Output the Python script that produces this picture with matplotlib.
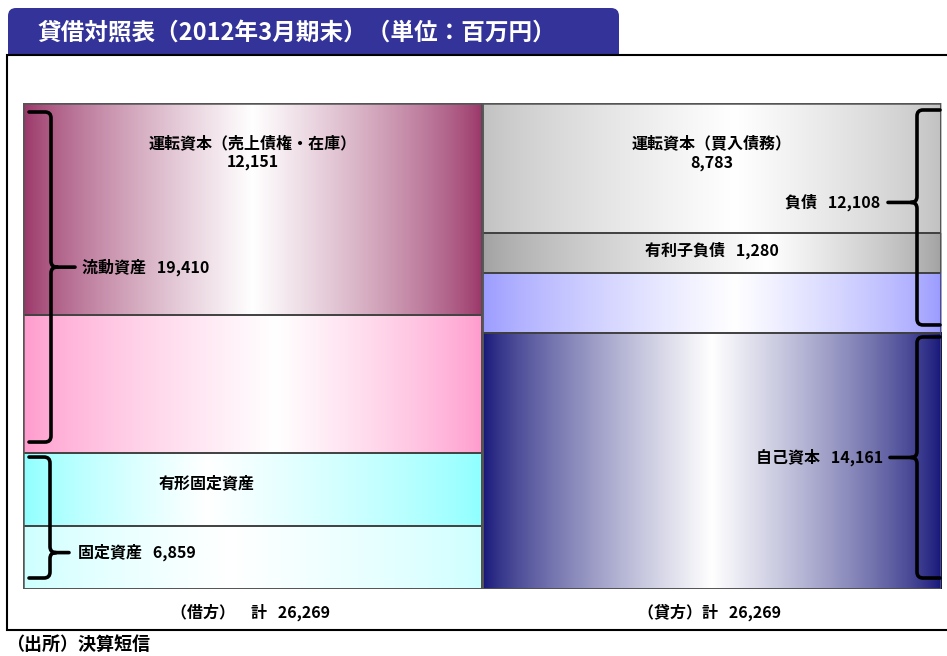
import numpy as np
import matplotlib.pyplot as plt
from matplotlib.patches import Rectangle, FancyBboxPatch, PathPatch
from matplotlib.path import Path
from matplotlib.colors import to_rgb

plt.rcParams['font.family'] = ['Noto Sans CJK JP', 'DejaVu Sans']

# values printed on the chart (million yen)
total = 26269
current_assets = 19410
fixed_assets = 6859
wc_receivable = 12151
wc_payable = 8783
debt = 1280
liabilities = 12108
equity = 14161

# segment heights as drawn in the picture, top to bottom (million yen)
debit_vals = [11460, 7460, 3950, 3400]     # wc assets, other current, tangible, other fixed
credit_vals = [7030, 2160, 3240, 13840]    # wc payable, debt, other liab, equity

debit_colors = ['#993366', '#FF99CC', '#8CFFFF', '#CCFFFF']
credit_colors = ['#C0C0C0', '#A0A0A0', '#9999FF', '#141478']
debit_peak = [0.5, 0.55, 0.4, 0.45]
credit_peak = [0.55, 0.62, 0.55, 0.5]

W, H = 947, 656
fig = plt.figure(figsize=(W / 100, H / 100), dpi=100)

# pixel-space layers behind and in front of the chart
bg = fig.add_axes([0, 0, 1, 1], zorder=0)
fg = fig.add_axes([0, 0, 1, 1], zorder=2)
for a in (bg, fg):
    a.set_xlim(0, W)
    a.set_ylim(H, 0)
    a.axis('off')
    a.patch.set_alpha(0)

# title tab + frame
bg.add_patch(FancyBboxPatch((8, 8), 611, 60, boxstyle='round,pad=0,rounding_size=8',
                            fc='#333399', ec='none'))
bg.add_patch(Rectangle((7, 55), 980, 575, fc='white', ec='black', lw=1.5))
bg.text(38, 33, '貸借対照表（2012年3月期末）（単位：百万円）', color='white',
        fontsize=17, fontweight='bold', va='center', ha='left')

# chart area
X0, Y0, CW, CH = 23, 103, 459, 486
ax = fig.add_axes([X0 / W, 1 - (Y0 + CH) / H, 2 * CW / W, CH / H], zorder=1)
ax.patch.set_alpha(0)


def px(x):
    return X0 + x * CW


def py(v):
    return Y0 + v / total * CH


def gradient(color, peak, n=300):
    t = np.linspace(0, 1, n)
    w = np.where(t < peak, t / peak, (1 - t) / (1 - peak)) ** 0.75
    c = np.array(to_rgb(color))
    return (c[None, :] * (1 - w[:, None]) + w[:, None])[None, :, :]


for col, (vals, cols, peaks) in enumerate([(debit_vals, debit_colors, debit_peak),
                                            (credit_vals, credit_colors, credit_peak)]):
    y = 0
    for v, c, p in zip(vals, cols, peaks):
        ax.imshow(gradient(c, p), extent=(col, col + 1, y + v, y), aspect='auto',
                  interpolation='bilinear')
        ax.add_patch(Rectangle((col, y), 1, v, fill=False, ec='#404040', lw=1.2))
        y += v
    ax.add_patch(Rectangle((col, 0), 1, total, fill=False, ec='#555555', lw=1.8))

ax.set_xlim(0, 2)
ax.set_ylim(total, 0)
ax.axis('off')


def brace(x_end, x_v, x_tip, y0, y1, frac):
    s = 1 if x_tip > x_v else -1
    r = 6
    ym = y0 + (y1 - y0) * frac
    verts = [(x_end, y0), (x_v - s * r, y0), (x_v, y0), (x_v, y0 + r),
             (x_v, ym - r), (x_v, ym), (x_v + s * r, ym), (x_tip, ym),
             (x_v + s * r, ym), (x_v, ym), (x_v, ym + r),
             (x_v, y1 - r), (x_v, y1), (x_v - s * r, y1), (x_end, y1)]
    codes = [Path.MOVETO, Path.LINETO, Path.CURVE3, Path.CURVE3,
             Path.LINETO, Path.CURVE3, Path.CURVE3, Path.LINETO,
             Path.MOVETO, Path.CURVE3, Path.CURVE3,
             Path.LINETO, Path.CURVE3, Path.CURVE3, Path.LINETO]
    fg.add_patch(PathPatch(Path(verts, codes), fill=False, ec='black', lw=2.6,
                           capstyle='round', joinstyle='round'))
    return ym


fs = 11.5
kw = dict(fontsize=fs, fontweight='bold', color='black')
gap = '   '

# debit side
ym = brace(29, 51, 75, py(0) + 9, py(debit_vals[0] + debit_vals[1]) - 11, 0.47)
fg.text(82, ym, f'流動資産{gap}{current_assets:,}', ha='left', va='center', **kw)
ym = brace(29, 50, 69, py(debit_vals[0] + debit_vals[1]) + 4, py(total) - 11, 0.79)
fg.text(78, ym, f'固定資産{gap}{fixed_assets:,}', ha='left', va='center', **kw)

fg.text(px(0.5), py(0) + 40, '運転資本（売上債権・在庫）', ha='center', va='center', **kw)
fg.text(px(0.5), py(0) + 59, f'{wc_receivable:,}', ha='center', va='center', **kw)
fg.text(px(0.4), py(debit_vals[0] + debit_vals[1] + debit_vals[2] / 2) - 6,
        '有形固定資産', ha='center', va='center', **kw)

# credit side
liab_end = sum(credit_vals[:3])
ym = brace(940, 917, 888, py(0) + 7, py(liab_end) - 8, 0.43)
fg.text(880, ym, f'負債{gap}{liabilities:,}', ha='right', va='center', **kw)
ym = brace(940, 917, 890, py(liab_end) + 4, py(total) - 11, 0.5)
fg.text(883, ym, f'自己資本{gap}{equity:,}', ha='right', va='center', **kw)

fg.text(px(1.5), py(0) + 40, '運転資本（買入債務）', ha='center', va='center', **kw)
fg.text(px(1.5), py(0) + 60, f'{wc_payable:,}', ha='center', va='center', **kw)
fg.text(px(1.5), py(credit_vals[0] + credit_vals[1] / 2) - 3,
        f'有利子負債{gap}{debt:,}', ha='center', va='center', **kw)

# totals and source
fg.text(251, 612, f'（借方）　計{gap}{total:,}', ha='center', va='center', **kw)
fg.text(710, 612, f'（貸方）計{gap}{total:,}', ha='center', va='center', **kw)
fg.text(6, 644, '（出所）決算短信', ha='left', va='center', fontsize=13, fontweight='bold')

fig.savefig('out.png', dpi=100)
